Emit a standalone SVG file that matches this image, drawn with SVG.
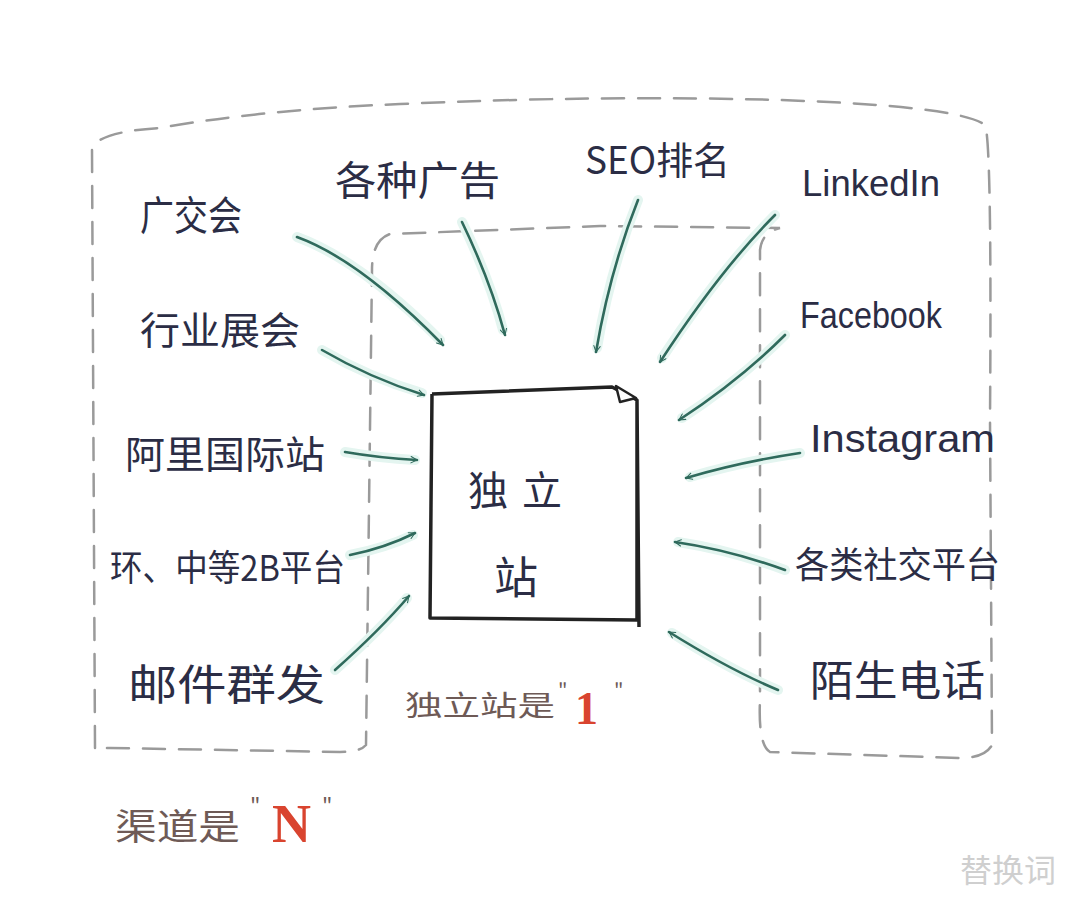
<svg xmlns="http://www.w3.org/2000/svg" width="1080" height="898" viewBox="0 0 1080 898">
<defs>
<style>
.lbl{font-family:"Noto Sans CJK SC","Liberation Sans",sans-serif;fill:#2b2d45;}
.lat{font-family:"Liberation Sans","Noto Sans",sans-serif;fill:#2b2d45;}
.frame{fill:none;stroke:#9a9a9a;stroke-width:2.5;stroke-dasharray:22 14;stroke-linecap:round;}
.glow{fill:none;stroke:#e4f5f0;stroke-width:10;stroke-linecap:round;}
.arr{fill:none;stroke:#2f6a5c;stroke-width:2.6;stroke-linecap:round;marker-end:url(#ah);}
.box{fill:#fff;stroke:#222;stroke-width:3.5;stroke-linejoin:round;}
.note{font-family:"Noto Sans CJK SC",sans-serif;fill:#6e5a56;}
.red{font-family:"Liberation Serif","Noto Serif",serif;font-weight:bold;fill:#d9442f;}
</style>
<marker id="ah" viewBox="0 0 20 20" refX="17" refY="10" markerWidth="8" markerHeight="8" orient="auto" markerUnits="userSpaceOnUse">
<path d="M2,2 L17,10 L2,18" fill="none" stroke="#2f6a5c" stroke-width="2.6" stroke-linecap="round" stroke-linejoin="round"/>
</marker>
</defs>
<rect width="1080" height="898" fill="#ffffff"/>

<g id="channel-frame">
<path class="frame" d="M95,748 L92,150 Q95,132 160,128 Q260,110 400,104 Q600,95 780,100 Q960,106 985,125 Q992,140 990,420 L992,745 Q985,758 960,758 L770,752 Q758,745 760,700 L760,250 Q762,232 780,228 L600,226 L390,234 Q372,240 372,270 L366,745 Q360,752 340,752 L110,748 Z"/>
</g>

<g id="connectors">
<path class="glow" d="M297,237 Q360,260 440,340"/>
<path class="glow" d="M462,222 Q490,280 503,330"/>
<path class="glow" d="M638,200 Q610,270 597,348"/>
<path class="glow" d="M775,215 Q720,270 662,358"/>
<path class="glow" d="M322,350 Q370,378 422,393"/>
<path class="glow" d="M785,335 Q740,380 682,418"/>
<path class="glow" d="M345,452 Q380,458 415,460"/>
<path class="glow" d="M800,453 Q740,462 690,477"/>
<path class="glow" d="M350,555 Q385,548 413,535"/>
<path class="glow" d="M785,570 Q730,550 678,542"/>
<path class="glow" d="M335,670 Q380,630 407,598"/>
<path class="glow" d="M778,690 Q730,670 672,633"/>

<path class="arr" d="M297,237 Q360,260 443,345"/>
<path class="arr" d="M462,222 Q490,280 505,335"/>
<path class="arr" d="M638,200 Q610,270 596,352"/>
<path class="arr" d="M775,215 Q720,270 660,362"/>
<path class="arr" d="M322,350 Q370,378 424,395"/>
<path class="arr" d="M785,335 Q740,380 679,420"/>
<path class="arr" d="M345,452 Q380,458 417,460"/>
<path class="arr" d="M800,453 Q740,462 686,478"/>
<path class="arr" d="M350,555 Q385,548 415,533"/>
<path class="arr" d="M785,570 Q730,550 675,542"/>
<path class="arr" d="M335,670 Q380,630 409,596"/>
<path class="arr" d="M778,690 Q730,670 669,632"/>
</g>

<g id="independent-site">
<path class="box" d="M432,394 L612,387 L637,400 L639,627 M637,400 L637,620 L430,618 L432,394"/>
<path d="M616,386 L620,402 L636,398 Z" fill="#fff" stroke="#222" stroke-width="2.5" stroke-linejoin="round"/>
<text class="lbl" x="468" y="505" font-size="40">独</text>
<text class="lbl" x="522" y="505" font-size="40">立</text>
<text class="lbl" x="494" y="594" font-size="44">站</text>
</g>

<g id="n-guangjiaohui"><text class="lbl" x="140" y="230" font-size="40" textLength="102" lengthAdjust="spacingAndGlyphs">广交会</text></g>
<g id="n-ads"><text class="lbl" x="335" y="195" font-size="40" textLength="165" lengthAdjust="spacingAndGlyphs">各种广告</text></g>
<g id="n-seo"><text class="lbl" x="585" y="174" font-size="38" textLength="145" lengthAdjust="spacingAndGlyphs">SEO排名</text></g>
<g id="n-linkedin"><text class="lat" x="802" y="196" font-size="36" textLength="138" lengthAdjust="spacingAndGlyphs">LinkedIn</text></g>
<g id="n-expo"><text class="lbl" x="140" y="344" font-size="38" textLength="160" lengthAdjust="spacingAndGlyphs">行业展会</text></g>
<g id="n-facebook"><text class="lat" x="800" y="328" font-size="36" textLength="142" lengthAdjust="spacingAndGlyphs">Facebook</text></g>
<g id="n-alibaba"><text class="lbl" x="125" y="468" font-size="38" textLength="200" lengthAdjust="spacingAndGlyphs">阿里国际站</text></g>
<g id="n-instagram"><text class="lat" x="810" y="452" font-size="38" textLength="185" lengthAdjust="spacingAndGlyphs">Instagram</text></g>
<g id="n-b2b"><text class="lbl" x="110" y="581" font-size="36" textLength="235" lengthAdjust="spacingAndGlyphs">环、中等2B平台</text></g>
<g id="n-social"><text class="lbl" x="795" y="578" font-size="36" textLength="205" lengthAdjust="spacingAndGlyphs">各类社交平台</text></g>
<g id="n-email"><text class="lbl" x="128" y="700" font-size="42" textLength="197" lengthAdjust="spacingAndGlyphs">邮件群发</text></g>
<g id="n-cold-call"><text class="lbl" x="810" y="696" font-size="42" textLength="175" lengthAdjust="spacingAndGlyphs">陌生电话</text></g>

<g id="caption-1">
<text class="note" x="405" y="716" font-size="28" textLength="150" lengthAdjust="spacingAndGlyphs">独立站是</text>
<text class="note" x="558" y="698" font-size="20">"</text>
<text class="red" x="575" y="724" font-size="46">1</text>
<text class="note" x="614" y="698" font-size="20">"</text>
</g>

<g id="caption-n">
<text class="note" x="115" y="840" font-size="36" textLength="125" lengthAdjust="spacingAndGlyphs">渠道是</text>
<text class="note" x="250" y="814" font-size="22">"</text>
<text class="red" x="272" y="842" font-size="54">N</text>
<text class="note" x="322" y="814" font-size="22">"</text>
</g>

<text x="960" y="882" font-family="Noto Sans CJK SC,sans-serif" font-size="32" fill="#cfcfcf">替换词</text>
</svg>
